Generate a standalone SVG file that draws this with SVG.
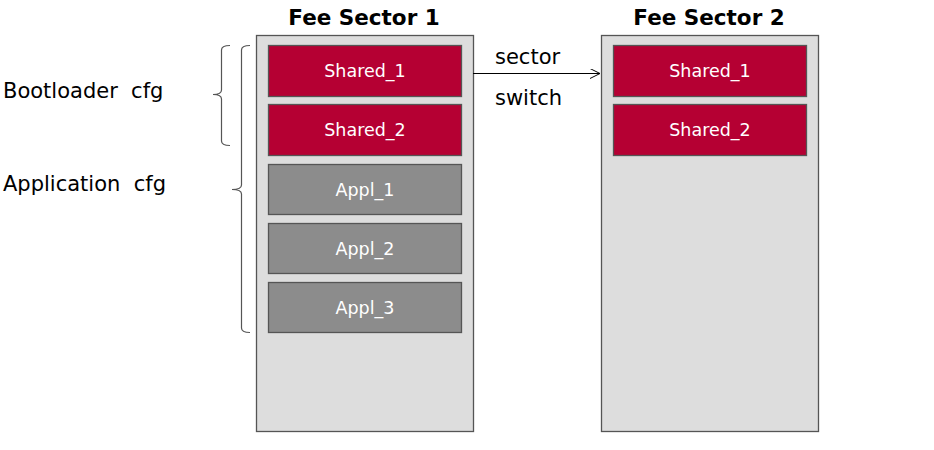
<svg xmlns="http://www.w3.org/2000/svg" width="934" height="450" viewBox="0 0 934 450">
<style>
text{font-family:"DejaVu Sans",Verdana,sans-serif;white-space:pre}
.sector{fill:#dddddd;stroke:#555555;stroke-width:1.3}
.red{fill:#b50033;stroke:#555555;stroke-width:1.3}
.gray{fill:#8c8c8c;stroke:#555555;stroke-width:1.3}
.lbl{fill:#ffffff;font-size:17.5px;text-anchor:middle}
.title{font-size:21.5px;font-weight:bold;text-anchor:middle;fill:#000}
.side{font-size:21px;fill:#000}
.brace{fill:none;stroke:#555555;stroke-width:1.2}
</style>
<defs>
<marker id="arr" viewBox="0 0 10 10" refX="10" refY="5" markerWidth="10" markerHeight="10" markerUnits="userSpaceOnUse" orient="auto">
<path d="M0,0 L10,5 L0,10" fill="none" stroke="#000" stroke-width="1"/>
</marker>
</defs>
<g id="sector1">
<text class="title" x="364" y="25">Fee Sector 1</text>
<rect class="sector" x="256.5" y="35.5" width="217" height="396"/>
</g>
<g id="sector2">
<text class="title" x="709" y="25">Fee Sector 2</text>
<rect class="sector" x="601.5" y="35.5" width="217" height="396"/>
</g>
<g id="s1_shared1"><rect class="red" x="268.5" y="45.5" width="193" height="51"/><text class="lbl" x="365" y="77">Shared_1</text></g>
<g id="s1_shared2"><rect class="red" x="268.5" y="104.5" width="193" height="51"/><text class="lbl" x="365" y="136">Shared_2</text></g>
<g id="s1_appl1"><rect class="gray" x="268.5" y="164.5" width="193" height="50"/><text class="lbl" x="365" y="196">Appl_1</text></g>
<g id="s1_appl2"><rect class="gray" x="268.5" y="223.5" width="193" height="50"/><text class="lbl" x="365" y="255">Appl_2</text></g>
<g id="s1_appl3"><rect class="gray" x="268.5" y="282.5" width="193" height="50"/><text class="lbl" x="365" y="314">Appl_3</text></g>
<g id="s2_shared1"><rect class="red" x="613.5" y="45.5" width="193" height="51"/><text class="lbl" x="710" y="77">Shared_1</text></g>
<g id="s2_shared2"><rect class="red" x="613.5" y="104.5" width="193" height="51"/><text class="lbl" x="710" y="136">Shared_2</text></g>
<g id="bootloader_cfg">
<text class="side" x="3" y="98">Bootloader  cfg</text>
<path class="brace" d="M230,45.5 Q221.5,45.5 221.5,50 L221.5,90 Q221.5,94.5 213,94.5 Q221.5,94.5 221.5,99 L221.5,141 Q221.5,145.5 230,145.5"/>
</g>
<g id="application_cfg">
<text class="side" x="3" y="191">Application  cfg</text>
<path class="brace" d="M250,45.5 Q241.5,45.5 241.5,50 L241.5,185 Q241.5,189.5 232,189.5 Q241.5,189.5 241.5,194 L241.5,328 Q241.5,332.5 250,332.5"/>
</g>
<g id="connectors">
<line x1="473" y1="73.5" x2="600" y2="73.5" stroke="#000" stroke-width="1" marker-end="url(#arr)"/>
<text class="side" x="495" y="64">sector</text>
<text class="side" x="495" y="105">switch</text>
</g>
</svg>
